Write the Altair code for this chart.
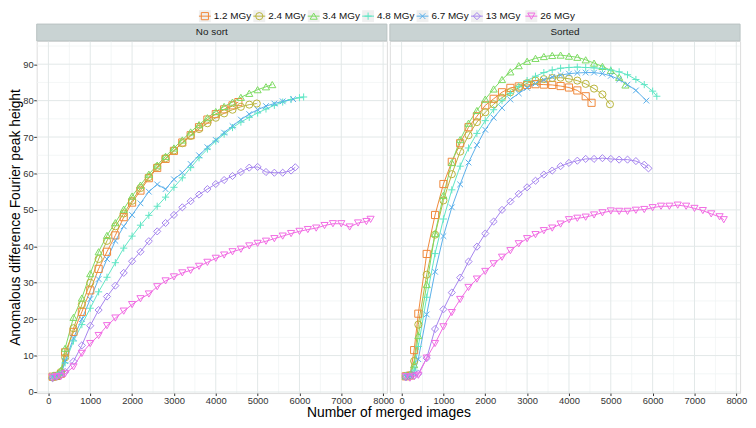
import altair as alt
import pandas as pd

DOSES = ["1.2 MGy", "2.4 MGy", "3.4 MGy", "4.8 MGy", "6.7 MGy", "13 MGy", "26 MGy"]
COLORS = ["#F0883A", "#B8B43C", "#7CDB62", "#5FE6C4", "#5AAFEA", "#A584EE", "#F16BE3"]
SHAPES = ["square", "circle", "triangle-up",
          "M-1,0L1,0M0,-1L0,1",
          "M-0.8,-0.8L0.8,0.8M-0.8,0.8L0.8,-0.8",
          "diamond", "triangle-down"]
PANELS = ["No sort", "Sorted"]

# common x positions (number of merged images)
XGRID = [100, 200, 300, 400, 600, 800, 1000, 1200, 1400, 1600, 1800, 2000, 2200, 2400,
         2600, 2800, 3000, 3200, 3400, 3600, 3800, 4000, 4200, 4400, 4600, 4800, 5000,
         5200, 5400, 5600, 5800, 6000, 6200, 6400, 6600, 6800, 7000, 7200, 7400, 7600]
X_END = {"1.2 MGy": (24, 4540), "2.4 MGy": (26, 4980), "3.4 MGy": (28, 5350),
         "4.8 MGy": (32, 6100), "6.7 MGy": (30, 5850), "13 MGy": (31, 5900),
         "26 MGy": (40, 7700)}

NOSORT = {
    "1.2 MGy": [4.2, 4.4, 5.0, 10.9, 16.5, 22.0, 27.9, 33.8, 38.5, 43.0, 48.0, 52.0, 55.3, 58.7,
                61.5, 64.0, 66.2, 68.5, 70.5, 72.7, 74.8, 76.3, 77.6, 78.7, 79.6],
    "2.4 MGy": [4.0, 4.3, 5.5, 9.5, 17.5, 24.0, 30.0, 36.5, 41.5, 45.5, 49.0, 52.5, 56.0, 59.0,
                61.8, 64.2, 66.3, 68.3, 70.3, 72.2, 73.8, 75.3, 76.5, 77.5, 78.3, 78.9, 79.2],
    "3.4 MGy": [4.5, 4.7, 6.0, 12.0, 20.5, 25.8, 32.5, 38.5, 43.0, 46.5, 50.2, 53.8, 56.8, 59.8,
                62.3, 64.7, 67.0, 69.2, 71.4, 73.4, 75.3, 77.0, 78.4, 79.6, 80.9, 82.0, 83.0,
                83.8, 84.4],
    "4.8 MGy": [4.3, 4.5, 5.2, 8.0, 14.0, 18.5, 23.0, 27.5, 31.5, 35.5, 39.5, 42.8, 45.8, 48.5,
                51.0, 53.5, 56.2, 58.8, 61.6, 64.3, 66.7, 68.9, 70.8, 72.6, 74.1, 75.4, 76.6,
                77.7, 78.7, 79.6, 80.3, 80.8, 81.0],
    "6.7 MGy": [4.3, 4.6, 5.0, 8.5, 14.8, 20.0, 25.5, 31.0, 36.5, 41.5, 45.5, 48.6, 51.8, 55.0,
                57.0, 55.7, 58.4, 60.2, 62.6, 65.0, 67.2, 69.2, 71.2, 73.0, 74.8, 76.3, 77.5,
                78.5, 79.2, 79.8, 80.4],
    "13 MGy": [3.8, 4.2, 4.5, 5.5, 8.4, 12.8, 18.2, 22.5, 26.2, 29.2, 32.7, 35.9, 38.5, 41.4,
               44.1, 46.4, 48.6, 50.7, 52.4, 54.2, 55.7, 57.1, 58.2, 59.3, 60.4, 61.6, 61.8,
               60.4, 60.2, 60.2, 60.8, 61.7],
    "26 MGy": [4.0, 4.2, 4.3, 5.0, 6.9, 10.6, 13.3, 15.5, 18.2, 20.3, 22.2, 24.0, 25.6, 26.9,
               28.9, 30.5, 31.6, 32.7, 33.4, 34.5, 35.6, 36.7, 37.6, 38.5, 39.2, 40.1, 40.8,
               41.4, 42.1, 42.8, 43.5, 44.1, 44.6, 45.0, 45.7, 46.2, 46.2, 45.3, 46.4, 46.8,
               47.4],
}
SORTED = {
    "1.2 MGy": [4.3, 4.5, 11.5, 21.5, 37.9, 48.6, 57.1, 63.2, 68.3, 72.7, 75.7, 78.7, 80.5, 82.3,
                83.5, 83.9, 84.3, 84.5, 84.4, 84.3, 84.0, 83.6, 82.8, 81.2, 79.4],
    "2.4 MGy": [4.4, 4.6, 8.5, 18.5, 32.2, 43.2, 52.6, 59.8, 66.0, 70.5, 74.1, 76.8, 79.0, 80.8,
                82.3, 83.5, 84.8, 85.5, 85.9, 86.2, 86.3, 86.0, 85.5, 84.6, 83.3, 81.7, 79.0],
    "3.4 MGy": [4.4, 4.6, 7.5, 15.5, 29.5, 43.5, 54.0, 63.0, 69.3, 73.8, 77.3, 80.4, 83.2, 85.8,
                87.9, 89.6, 90.8, 91.6, 92.1, 92.4, 92.5, 92.2, 91.9, 91.2, 90.3, 89.4, 88.3,
                86.4, 84.3],
    "4.8 MGy": [4.5, 4.7, 6.0, 12.5, 26.0, 38.0, 47.5, 55.5, 62.0, 67.0, 71.0, 74.5, 77.5, 80.0,
                82.0, 83.9, 85.5, 86.7, 87.7, 88.4, 88.9, 89.1, 89.2, 89.1, 89.0, 88.8, 88.4,
                87.9, 87.1, 85.8, 84.4, 82.6, 81.2],
    "6.7 MGy": [4.3, 4.5, 5.0, 9.0, 21.3, 33.0, 42.8, 50.7, 57.0, 63.0, 67.8, 72.0, 75.3, 78.0,
                80.3, 82.0, 83.5, 84.7, 85.7, 86.5, 87.0, 87.4, 87.6, 87.7, 87.7, 87.4, 86.8,
                85.8, 84.4, 82.8, 80.0],
    "13 MGy": [4.0, 4.3, 4.4, 5.0, 9.3, 17.3, 22.7, 27.3, 31.4, 35.8, 39.9, 43.5, 46.8, 50.0,
               52.3, 54.4, 56.2, 58.0, 59.7, 60.8, 62.0, 62.9, 63.5, 64.0, 64.0, 64.2, 64.0,
               63.8, 63.8, 63.4, 62.4, 61.4],
    "26 MGy": [4.2, 3.8, 4.3, 4.6, 9.3, 13.3, 17.9, 21.8, 25.4, 28.7, 31.0, 33.1, 35.2, 37.0,
               38.8, 40.7, 42.1, 43.2, 44.3, 45.0, 46.1, 47.3, 47.7, 48.0, 48.6, 49.2, 49.7,
               49.6, 49.6, 49.9, 50.1, 50.6, 51.0, 51.0, 51.3, 51.0, 50.4, 49.8, 48.9, 48.1,
               47.3],
}

XTICKS = [0, 1000, 2000, 3000, 4000, 5000, 6000, 7000, 8000]
XMINOR = [500, 1500, 2500, 3500, 4500, 5500, 6500, 7500]
YTICKS = [0, 10, 20, 30, 40, 50, 60, 70, 80, 90]
YMINOR = [5, 15, 25, 35, 45, 55, 65, 75, 85, 95]

rows = []
for panel, table in (("No sort", NOSORT), ("Sorted", SORTED)):
    for dose in DOSES:
        n, end = X_END[dose]
        xs = XGRID[:n] + [end]
        for xv, yv in zip(xs, table[dose]):
            rows.append({"panel": panel, "dose": dose, "x": xv, "y": yv})
df = pd.DataFrame(rows)

W, H = 354, 356
XDOM = [-280, 8090]
YDOM = [-0.3, 96.4]
FONT = "Liberation Sans"
MAJOR = "#E2E8E8"
MINOR = "#F0F3F3"
MSIZE = 52

color_scale = alt.Scale(domain=DOSES, range=COLORS)
shape_scale = alt.Scale(domain=DOSES, range=SHAPES)


def panel(name, first):
    d = df[df["panel"] == name]
    xs = alt.Scale(domain=XDOM, nice=False, zero=False)
    ys = alt.Scale(domain=YDOM, nice=False, zero=False)
    xkw = dict(values=XTICKS, grid=False, domain=False, tickSize=2.5, tickColor="#333",
               labelFontSize=9.5, labelColor="#333", labelPadding=0, labelFlush=False,
               labelFont=FONT, format="d")
    if first:
        xkw.update(title="Number of merged images", titleX=W + 1.5, titleY=24,
                   titleAlign="center", titleBaseline="alphabetic", titleFontSize=14,
                   titleFontWeight="normal", titleColor="#000", titleFont=FONT)
    else:
        xkw.update(title=None)
    xaxis = alt.Axis(**xkw)
    if first:
        yaxis = alt.Axis(values=YTICKS, grid=False, domain=False, tickSize=3, tickColor="#333",
                         labelFontSize=9.5, labelColor="#333", labelPadding=0.5, labelFont=FONT,
                         title="Anomalous difference Fourier peak height", titleX=-17,
                         titleY=H / 2, titleAngle=270, titleAlign="center",
                         titleBaseline="alphabetic", titleFontSize=14,
                         titleFontWeight="normal", titleColor="#000", titleFont=FONT)
    else:
        yaxis = None

    X = lambda f: alt.X(f, type="quantitative", scale=xs, axis=xaxis)
    Y = lambda f: alt.Y(f, type="quantitative", scale=ys, axis=yaxis)

    gxm = alt.Chart(pd.DataFrame({"x": XMINOR})).mark_rule(color=MINOR, strokeWidth=0.8).encode(x=X("x"))
    gxM = alt.Chart(pd.DataFrame({"x": XTICKS})).mark_rule(color=MAJOR, strokeWidth=1).encode(x=X("x"))
    gym = alt.Chart(pd.DataFrame({"y": YMINOR})).mark_rule(color=MINOR, strokeWidth=0.8).encode(y=Y("y"))
    gyM = alt.Chart(pd.DataFrame({"y": YTICKS})).mark_rule(color=MAJOR, strokeWidth=1).encode(y=Y("y"))

    lines = alt.Chart(d).mark_line(strokeWidth=1).encode(
        x=X("x"), y=Y("y"),
        stroke=alt.Stroke("dose:N", scale=color_scale, legend=None),
        detail="dose:N",
    )
    pts = alt.Chart(d).mark_point(filled=False, size=MSIZE, strokeWidth=1, opacity=1).encode(
        x=X("x"), y=Y("y"),
        color=alt.Color("dose:N", scale=color_scale, legend=None),
        shape=alt.Shape("dose:N", scale=shape_scale, legend=None),
    )
    lab = pd.DataFrame({"label": [name]})
    strip = alt.Chart(lab).mark_rect(fill="#C9D3D3", stroke="#B9C2C2", strokeWidth=1).encode(
        x=alt.value(0), x2=alt.value(W), y=alt.value(-17), y2=alt.value(0))
    stext = alt.Chart(lab).mark_text(fontSize=10, font=FONT, color="#1a1a1a", baseline="middle").encode(
        x=alt.value(W / 2), y=alt.value(-8.5), text="label:N")
    return alt.layer(gxm, gym, gxM, gyM, lines, pts, strip, stext).properties(width=W, height=H)


# legend row (ggplot-style keys: grey box, line through marker, label)
LW, LH = 2 * W + 3, 12
leg_df = pd.DataFrame({"dose": DOSES})
lx = alt.X("dose:N", scale=alt.Scale(type="point", domain=DOSES, range=[170, 500],
                                     padding=0), axis=None)
lbase = alt.Chart(leg_df)
key_bg = lbase.mark_square(size=144, color="#F0F0F0", opacity=1).encode(x=lx, y=alt.value(LH / 2))
key_line = lbase.mark_point(shape="M-1,0L1,0", size=144, strokeWidth=1, opacity=1).encode(
    x=lx, y=alt.value(LH / 2), color=alt.Color("dose:N", scale=color_scale, legend=None))
key_pt = lbase.mark_point(filled=False, size=MSIZE, strokeWidth=1, opacity=1).encode(
    x=lx, y=alt.value(LH / 2),
    color=alt.Color("dose:N", scale=color_scale, legend=None),
    shape=alt.Shape("dose:N", scale=shape_scale, legend=None))
key_txt = lbase.mark_text(align="left", baseline="middle", dx=9, fontSize=10, font=FONT,
                          color="#111").encode(x=lx, y=alt.value(LH / 2), text="dose:N")
legend = alt.layer(key_bg, key_line, key_pt, key_txt).properties(
    width=LW, height=LH, view=alt.ViewBackground(strokeOpacity=0))

panels = alt.hconcat(panel("No sort", True), panel("Sorted", False), spacing=3, bounds="flush")
chart = alt.vconcat(legend, panels, spacing=19, bounds="flush").properties(
    padding={"left": 0, "top": 0, "right": 0, "bottom": 0},
).configure_view(stroke="#BFC7C7", strokeWidth=1).configure(font=FONT, background="white")

chart.save("out.html", embed_options={"renderer": "svg", "actions": False})
